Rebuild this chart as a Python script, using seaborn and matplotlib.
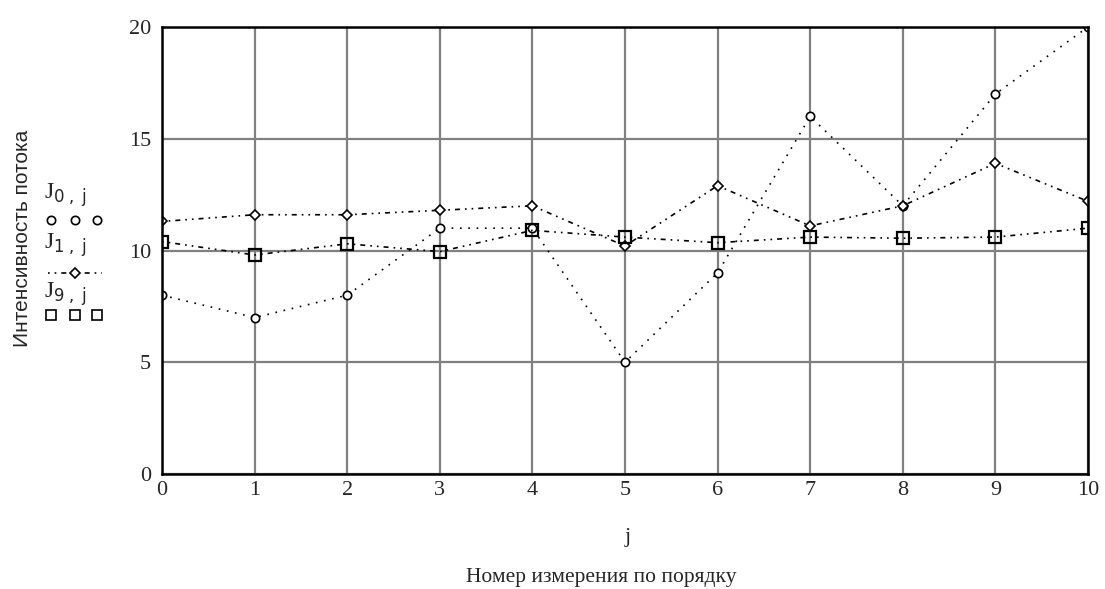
import numpy as np
import pandas as pd
import seaborn as sns
import matplotlib.pyplot as plt
from matplotlib.lines import Line2D

# Werte
j = list(range(11))
J0 = [8, 7, 8, 11, 11, 5, 9, 16, 12, 17, 20]
J1 = [11.3, 11.6, 11.6, 11.8, 12.0, 10.2, 12.9, 11.1, 12.0, 13.9, 12.2]
J9 = [10.4, 9.8, 10.3, 9.95, 10.9, 10.6, 10.35, 10.6, 10.55, 10.6, 11.0]

y_ticks = [0, 5, 10, 15, 20]

sns.set_theme(style='white')
plt.rcParams['font.family'] = ['Liberation Serif', 'DejaVu Serif']

fig = plt.figure(figsize=(11.05, 5.89), dpi=100)
ax = fig.add_axes([0.1466, 0.1952, 0.8380, 0.7590])

dashdot = (0, (1, 3, 1, 3, 3, 3))

sns.lineplot(x=j, y=J0, ax=ax, color='black', lw=1.2, linestyle=(0, (1, 4)),
             marker='o', ms=6, mfc='white', mec='black', mew=1.2)
sns.lineplot(x=j, y=J1, ax=ax, color='black', lw=1.2, linestyle=dashdot,
             marker='D', ms=5.5, mfc='white', mec='black', mew=1.2)
sns.lineplot(x=j, y=J9, ax=ax, color='black', lw=1.2, linestyle=dashdot,
             marker='s', ms=9, mfc='none', mec='black', mew=1.6)

ax.set_xlim(0, 10)
ax.set_ylim(0, 20)
ax.set_xticks(j)
ax.set_yticks(y_ticks)
ax.grid(True, color='#808080', lw=1.6)
ax.set_axisbelow(True)
for s in ax.spines.values():
    s.set_color('black')
    s.set_linewidth(1.8)
ax.tick_params(axis='both', labelsize=16, length=0)
ax.tick_params(axis='x', pad=5)
ax.tick_params(axis='y', pad=8)
ax.set_xlabel('')
ax.set_ylabel('')

fig.text(0.568, 0.087, 'j', ha='center', va='center', fontsize=16)
fig.text(0.544, 0.020, 'Номер измерения по порядку', ha='center', va='center', fontsize=15.5)
fig.text(0.020, 0.596, 'Интенсивность потока', rotation=90, ha='center', va='center',
         fontsize=15, family=['Liberation Sans', 'DejaVu Sans'])

# Legende im Mathcad-Stil: Beschriftung ueber dem Muster
fig.text(0.040, 0.668, r'J$_{0\;,\;\mathrm{j}}$', fontsize=17, ha='left', va='center')
fig.text(0.040, 0.583, r'J$_{1\;,\;\mathrm{j}}$', fontsize=17, ha='left', va='center')
fig.text(0.040, 0.500, r'J$_{9\;,\;\mathrm{j}}$', fontsize=17, ha='left', va='center')

fig.add_artist(Line2D([0.046, 0.068, 0.088], [0.626, 0.626, 0.626], transform=fig.transFigure,
                      color='black', lw=0, marker='o', ms=6, mfc='white', mec='black', mew=1.2))
fig.add_artist(Line2D([0.043, 0.092], [0.536, 0.536], transform=fig.transFigure,
                      color='black', lw=1.2, linestyle=dashdot))
fig.add_artist(Line2D([0.068], [0.536], transform=fig.transFigure,
                      marker='D', ms=5.5, mfc='white', mec='black', mew=1.2))
fig.add_artist(Line2D([0.046, 0.068, 0.088], [0.466, 0.466, 0.466], transform=fig.transFigure,
                      color='black', lw=0, marker='s', ms=7, mfc='white', mec='black', mew=1.2))

fig.savefig('out.png', dpi=100)
